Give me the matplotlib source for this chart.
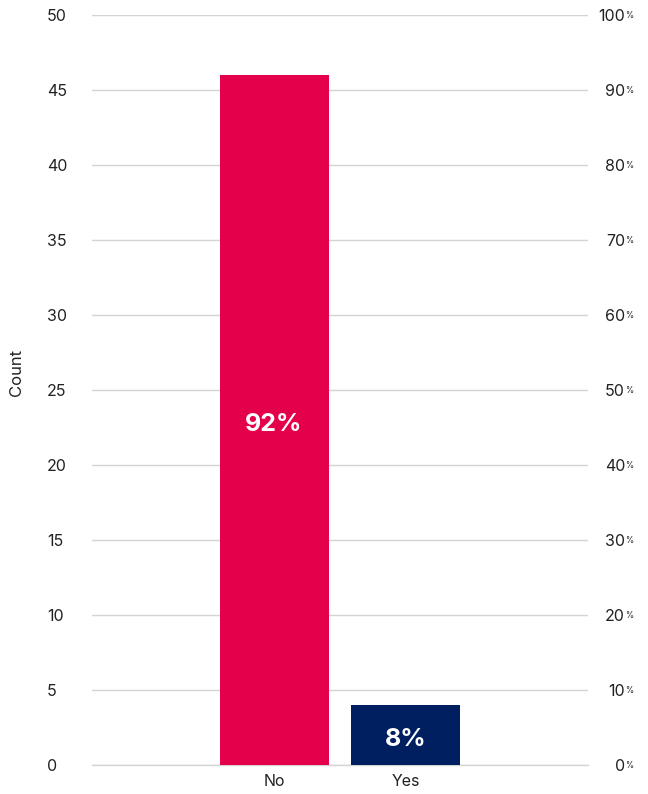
import numpy as np
import matplotlib.pyplot as plt
from matplotlib import transforms

plt.rcParams['font.family'] = ['Inter', 'DejaVu Sans']

categories = ['No', 'Yes']
counts = [46, 4]
bar_colors = ['#E4004B', '#001F60']
left_ticks = [0, 5, 10, 15, 20, 25, 30, 35, 40, 45, 50]
right_ticks = [0, 10, 20, 30, 40, 50, 60, 70, 80, 90, 100]

total = sum(counts)
pcts = [100.0 * c / total for c in counts]

fig = plt.figure(figsize=(6.48, 7.94), dpi=100)
ax = fig.add_axes([92 / 648, 1 - 765 / 794, 496 / 648, 750 / 794])

down = transforms.ScaledTranslation(0, -5 / 100, fig.dpi_scale_trans)
x = np.arange(len(categories))
bars = ax.bar(x, counts, width=0.826, color=bar_colors, zorder=3)
for b, p in zip(bars, pcts):
    ax.text(b.get_x() + b.get_width() / 2, b.get_height() / 2, f'{p:.0f}%',
            ha='center', va='center', color='white', fontsize=18,
            fontweight='bold', zorder=4, transform=ax.transData + down)

ax.set_xlim(-1.38, 2.38)
ax.set_ylim(0, 50)
ax.set_xticks(x)
ax.set_xticklabels(categories, fontsize=11.5, color='#222222')
ax.set_yticks(left_ticks)
ax.set_yticklabels([str(t) for t in left_ticks], fontsize=11.5, color='#222222',
                   ha='left', va='center_baseline')
ax.tick_params(axis='y', length=0, pad=32.4)
ax.tick_params(axis='x', length=0, pad=6.5)
ax.yaxis.grid(True, color='#d4d4d4', lw=1.0, zorder=0)
ax.axhline(0, color='#d4d4d4', lw=1.0, zorder=1, clip_on=False)
for s in ax.spines.values():
    s.set_visible(False)
ax.text((17 - 92) / 496, 0.523, 'Count', transform=ax.transAxes, rotation=90,
        ha='center', va='center', fontsize=12, color='#222222')

# right percentage axis
ax2 = ax.twinx()
ax2.set_ylim(0, 100)
ax2.set_yticks([])
for s in ax2.spines.values():
    s.set_visible(False)
trans = ax2.get_yaxis_transform() + transforms.ScaledTranslation(37 / 100, 0, fig.dpi_scale_trans)
for t in right_ticks:
    txt = ax2.text(1, t, str(t), transform=trans, ha='right', va='center_baseline',
                   fontsize=11.5, color='#222222', clip_on=False)
    ax2.annotate('%', xy=(1, 1), xycoords=txt, xytext=(0.2, -1.5),
                 textcoords='offset points', ha='left', va='top',
                 fontsize=6, color='#222222', annotation_clip=False)

fig.savefig('out.png', dpi=100)
